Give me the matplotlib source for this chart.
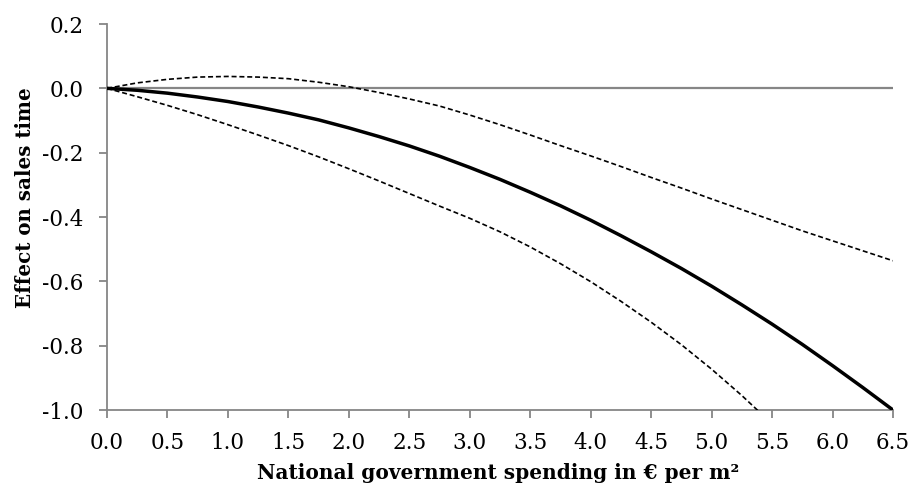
"""effet des dépenses publiques sur le temps de vente"""

import matplotlib
matplotlib.use("Agg")
import matplotlib.pyplot as plt

# valeurs
x = [0.0, 0.25, 0.5, 0.75, 1.0, 1.25, 1.5, 1.75, 2.0, 2.25, 2.5, 2.75, 3.0,
     3.25, 3.5, 3.75, 4.0, 4.25, 4.5, 4.75, 5.0, 5.25, 5.5, 5.75, 6.0, 6.25, 6.5]
effet = [0.0, -0.006, -0.015, -0.027, -0.041, -0.058, -0.077, -0.098, -0.123,
         -0.150, -0.179, -0.211, -0.246, -0.283, -0.323, -0.365, -0.410, -0.458,
         -0.508, -0.560, -0.615, -0.673, -0.733, -0.796, -0.862, -0.930, -1.000]
borne_haute = [0.0, 0.017, 0.028, 0.035, 0.037, 0.035, 0.030, 0.019, 0.005,
               -0.013, -0.033, -0.055, -0.083, -0.113, -0.145, -0.178, -0.210,
               -0.243, -0.277, -0.310, -0.344, -0.377, -0.410, -0.443, -0.474,
               -0.505, -0.536]
x_bas = x[:23]
borne_basse = [0.0, -0.026, -0.053, -0.082, -0.113, -0.145, -0.178, -0.213,
               -0.250, -0.288, -0.327, -0.366, -0.404, -0.446, -0.493, -0.545,
               -0.601, -0.662, -0.727, -0.797, -0.873, -0.955, -1.043]

xticks = [0.0, 0.5, 1.0, 1.5, 2.0, 2.5, 3.0, 3.5, 4.0, 4.5, 5.0, 5.5, 6.0, 6.5]
yticks = [0.2, 0.0, -0.2, -0.4, -0.6, -0.8, -1.0]

gris = "#868686"
plt.rcParams["font.family"] = ["DejaVu Serif"]

fig = plt.figure(figsize=(9.10, 4.87), dpi=100)
ax = fig.add_axes([0.1176, 0.1581, 0.8637, 0.7926])

ax.axhline(0, color=gris, lw=1.6, zorder=1)
ax.plot(x, borne_haute, color="black", lw=1.2, ls=(0, (3, 1.7)), zorder=3)
ax.plot(x_bas, borne_basse, color="black", lw=1.2, ls=(0, (3, 1.7)), zorder=3)
ax.plot(x, effet, color="black", lw=2.5, zorder=4)

ax.set_xlim(0, 6.5)
ax.set_ylim(-1.0, 0.2)
ax.set_xticks(xticks)
ax.set_xticklabels([f"{v:.1f}" for v in xticks])
ax.set_yticks(yticks)
ax.set_yticklabels([f"{v:.1f}" for v in yticks])

for s in ["top", "right"]:
    ax.spines[s].set_visible(False)
for s in ["left", "bottom"]:
    ax.spines[s].set_color(gris)
    ax.spines[s].set_linewidth(1.3)
ax.tick_params(axis="both", colors=gris, length=5.8, width=1.3, labelcolor="black",
               labelsize=15.5, direction="out")
ax.tick_params(axis="x", pad=10)
ax.tick_params(axis="y", pad=11)

ax.set_xlabel("National government spending in € per m²", fontsize=14.5,
              fontweight="bold")
ax.set_ylabel("Effect on sales time", fontsize=14.3, fontweight="bold")
ax.xaxis.set_label_coords(0.497, -0.138)
ax.yaxis.set_label_coords(-0.091, 0.549)

fig.savefig("out.png", dpi=100)
